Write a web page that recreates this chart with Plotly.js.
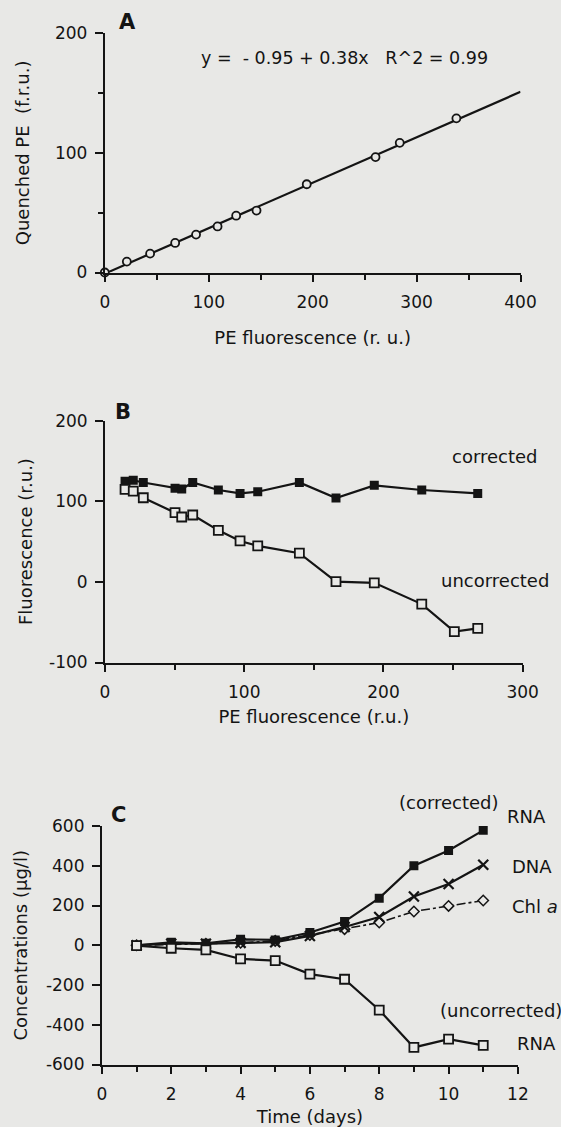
<!DOCTYPE html>
<html>
<head>
<meta charset="utf-8">
<script src="https://cdn.plot.ly/plotly-3.0.1.min.js"></script>
<style>
html,body{margin:0;padding:0;background:#e8e8e6;}
#chart{width:561px;height:1127px;}
</style>
</head>
<body>
<div id="chart"></div>
<script>
// ---- Panel A: quenched PE vs PE fluorescence ----
var peFluorA = [0, 21.2, 43.6, 67.7, 87.8, 108.5, 126.4, 146.0, 194.3, 260.5, 283.8, 338.3];
var quenchedPE = [0, 9.1, 15.8, 24.7, 31.7, 38.5, 47.5, 51.8, 73.8, 96.5, 108.4, 128.9];
var fitX = [0, 400];
var fitY = [-0.95, 151.05];
var eqText = "y =\u00a0 - 0.95 + 0.38x\u00a0\u00a0 R^2 = 0.99";

// ---- Panel B: fluorescence vs PE fluorescence ----
var peFluorCorr = [14.4, 20.3, 27.5, 50.3, 55.1, 63.0, 81.4, 97.0, 109.7, 139.6, 165.9, 193.4, 227.5, 267.7];
var fluorCorr = [124.9, 126.1, 123.3, 116.1, 115.2, 123.3, 114.0, 109.8, 111.9, 123.3, 104.1, 119.8, 114.0, 109.8];
var peFluorUncorr = [14.4, 20.3, 27.5, 50.3, 55.1, 63.0, 81.4, 97.0, 109.7, 139.6, 165.9, 193.4, 227.5, 250.9, 267.7];
var fluorUncorr = [114.8, 112.7, 104.4, 85.9, 80.5, 83.0, 64.0, 50.8, 44.6, 35.6, 0.4, -1.2, -27.5, -61.8, -57.7];
var fluorTickVals = [-100, 0, 100, 200];
var fluorTickText = ["-100", "0", "100", "200"];

// ---- Panel C: concentrations vs time ----
var days = [1, 2, 3, 4, 5, 6, 7, 8, 9, 10, 11];
var rnaCorrected = [0, 15, 10, 30, 27, 64, 119, 237, 400, 477, 578];
var dnaConc = [0, 8, 8, 12, 15, 47, 92, 142, 245, 308, 405];
var chlA = [0, 5, 8, 12, 22, 52, 81, 114, 170, 198, 225];
var rnaUncorrected = [-2, -15, -23, -69, -77, -145, -171, -326, -514, -472, -504];
var concTickVals = [-600, -400, -200, 0, 200, 400, 600];
var concTickText = ["-600", "-400", "-200", "0", "200", "400", "600"];

var BG = '#e8e8e6';
var INK = '#141414';
var FONT = 'DejaVu Sans, Liberation Sans, Arial, sans-serif';
var W = 561, H = 1127;
function px(x){ return x / W; }
function py(y){ return 1 - y / H; }

var traces = [
  {x: fitX, y: fitY, xaxis: 'x', yaxis: 'y', mode: 'lines',
   line: {color: INK, width: 2.2}, showlegend: false, hoverinfo: 'skip'},
  {x: peFluorA, y: quenchedPE, xaxis: 'x', yaxis: 'y', mode: 'markers', cliponaxis: false,
   marker: {symbol: 'circle', size: 8, color: BG, line: {color: INK, width: 1.8}}, showlegend: false},

  {x: peFluorCorr, y: fluorCorr, xaxis: 'x2', yaxis: 'y2', mode: 'lines+markers', name: 'corrected',
   line: {color: INK, width: 2.2}, marker: {symbol: 'square', size: 9, color: INK}, showlegend: false},
  {x: peFluorUncorr, y: fluorUncorr, xaxis: 'x2', yaxis: 'y2', mode: 'lines+markers', name: 'uncorrected',
   line: {color: INK, width: 2.2},
   marker: {symbol: 'square', size: 9, color: BG, line: {color: INK, width: 1.8}}, showlegend: false},

  {x: days, y: chlA, xaxis: 'x3', yaxis: 'y3', mode: 'lines+markers', name: 'Chl a',
   line: {color: INK, width: 1.6, dash: 'dashdot'},
   marker: {symbol: 'diamond', size: 8, color: BG, line: {color: INK, width: 1.5}}, showlegend: false},
  {x: days, y: dnaConc, xaxis: 'x3', yaxis: 'y3', mode: 'lines+markers', name: 'DNA',
   line: {color: INK, width: 2.2},
   marker: {symbol: 'x-thin', size: 10, color: INK, line: {color: INK, width: 2.2}}, showlegend: false},
  {x: days, y: rnaCorrected, xaxis: 'x3', yaxis: 'y3', mode: 'lines+markers', name: 'RNA (corrected)',
   line: {color: INK, width: 2.2}, marker: {symbol: 'square', size: 9, color: INK}, showlegend: false},
  {x: days, y: rnaUncorrected, xaxis: 'x3', yaxis: 'y3', mode: 'lines+markers', name: 'RNA (uncorrected)', cliponaxis: false,
   line: {color: INK, width: 2.2},
   marker: {symbol: 'square', size: 9, color: BG, line: {color: INK, width: 1.8}}, showlegend: false}
];

function xAxis(domain, range, dtick, minorDtick, title, anchor, standoff) {
  return {
    domain: domain, range: range, anchor: anchor, dtick: dtick, tick0: 0,
    showline: true, linecolor: INK, linewidth: 2, showgrid: false, zeroline: false,
    ticks: 'outside', ticklen: 7, tickwidth: 2, tickcolor: INK, ticklabelstandoff: 6,
    minor: {dtick: minorDtick, tick0: 0, ticks: 'outside', ticklen: 5, tickwidth: 2, tickcolor: INK, showgrid: false},
    tickfont: {family: FONT, size: 17, color: INK},
    title: {text: title, font: {family: FONT, size: 18, color: INK}, standoff: standoff},
    fixedrange: true
  };
}
function yAxis(domain, range, dtick, minorDtick, title, anchor, standoff) {
  var a = {
    domain: domain, range: range, anchor: anchor, dtick: dtick, tick0: 0,
    showline: true, linecolor: INK, linewidth: 2, showgrid: false, zeroline: false,
    ticks: 'outside', ticklen: 8, tickwidth: 2, tickcolor: INK, ticklabelstandoff: 4,
    tickfont: {family: FONT, size: 17, color: INK},
    title: {text: title, font: {family: FONT, size: 18, color: INK}, standoff: standoff},
    fixedrange: true
  };
  if (minorDtick) a.minor = {dtick: minorDtick, tick0: 0, ticks: 'outside', ticklen: 5, tickwidth: 2, tickcolor: INK, showgrid: false};
  return a;
}

var yA = yAxis([py(272.5), py(33.3)], [0, 200], 100, 50, 'Quenched PE\u00a0 (f.r.u.)', 'x', 21);
var yB = yAxis([py(662.5), py(420.7)], [-100, 200], 100, null, 'Fluorescence (r.u.)', 'x2', 12);
yB.tickmode = 'array'; yB.tickvals = fluorTickVals; yB.ticktext = fluorTickText;
var yC = yAxis([py(1064.5), py(826)], [-600, 600], 200, null, 'Concentrations (µg/l)', 'x3', 14);
yC.tickmode = 'array'; yC.tickvals = concTickVals; yC.ticktext = concTickText;

var layout = {
  width: W, height: H,
  margin: {l: 0, r: 0, t: 0, b: 0},
  paper_bgcolor: BG, plot_bgcolor: 'rgba(0,0,0,0)',
  font: {family: FONT, color: INK},
  showlegend: false,
  xaxis: xAxis([px(104.8), px(520.5)], [0, 400], 100, 50, 'PE fluorescence (r. u.)', 'y', 20),
  yaxis: yA,
  xaxis2: xAxis([px(105), px(522.7)], [0, 300], 100, 50, 'PE fluorescence (r.u.)', 'y2', 9),
  yaxis2: yB,
  xaxis3: xAxis([px(101.9), px(517.9)], [0, 12], 2, 1, 'Time (days)', 'y3', 8),
  yaxis3: yC,
  annotations: [
    {text: '<b>A</b>', xref: 'paper', yref: 'paper', x: px(128), y: py(22.5), showarrow: false, font: {family: FONT, size: 21}, xanchor: 'center', yanchor: 'middle'},
    {text: eqText, xref: 'paper', yref: 'paper', x: px(198.5), y: py(58.5), showarrow: false, font: {family: FONT, size: 17.5}, xanchor: 'left', yanchor: 'middle'},
    {text: '<b>B</b>', xref: 'paper', yref: 'paper', x: px(122.5), y: py(411.5), showarrow: false, font: {family: FONT, size: 21}, xanchor: 'center', yanchor: 'middle'},
    {text: 'corrected', xref: 'paper', yref: 'paper', x: px(495), y: py(457), showarrow: false, font: {family: FONT, size: 18}, xanchor: 'center', yanchor: 'middle'},
    {text: 'uncorrected', xref: 'paper', yref: 'paper', x: px(494.5), y: py(580), showarrow: false, font: {family: FONT, size: 18}, xanchor: 'center', yanchor: 'middle'},
    {text: '<b>C</b>', xref: 'paper', yref: 'paper', x: px(118), y: py(815), showarrow: false, font: {family: FONT, size: 21}, xanchor: 'center', yanchor: 'middle'},
    {text: '(corrected)', xref: 'paper', yref: 'paper', x: px(449), y: py(802), showarrow: false, font: {family: FONT, size: 18}, xanchor: 'center', yanchor: 'middle'},
    {text: 'RNA', xref: 'paper', yref: 'paper', x: px(505), y: py(816), showarrow: false, font: {family: FONT, size: 18}, xanchor: 'left', yanchor: 'middle'},
    {text: 'DNA', xref: 'paper', yref: 'paper', x: px(510), y: py(866), showarrow: false, font: {family: FONT, size: 18}, xanchor: 'left', yanchor: 'middle'},
    {text: 'Chl <i>a</i>', xref: 'paper', yref: 'paper', x: px(510), y: py(906), showarrow: false, font: {family: FONT, size: 18}, xanchor: 'left', yanchor: 'middle'},
    {text: '(uncorrected)', xref: 'paper', yref: 'paper', x: px(438), y: py(1011), showarrow: false, font: {family: FONT, size: 18}, xanchor: 'left', yanchor: 'middle'},
    {text: 'RNA', xref: 'paper', yref: 'paper', x: px(515), y: py(1043), showarrow: false, font: {family: FONT, size: 18}, xanchor: 'left', yanchor: 'middle'}
  ]
};

Plotly.newPlot('chart', traces, layout, {staticPlot: true, displayModeBar: false});
</script>
</body>
</html>
